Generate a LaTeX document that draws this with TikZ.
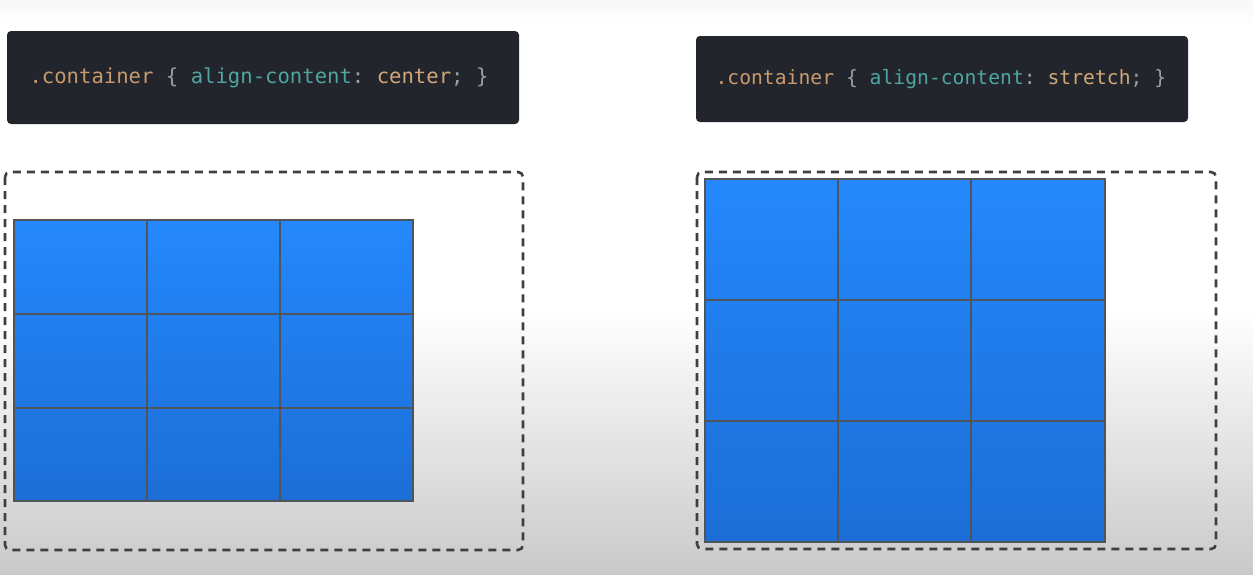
\documentclass[tikz,border=0pt]{standalone}
\usepackage{fontspec}
\setmonofont{DejaVu Sans Mono}
\definecolor{codebg}{HTML}{22252B}
\definecolor{csssel}{HTML}{C99A6E}
\definecolor{cssprop}{HTML}{4FA5A2}
\definecolor{csspunct}{HTML}{9AA0A8}
\definecolor{cssval}{HTML}{D2A679}
\definecolor{framegray}{HTML}{3F3F3F}
\definecolor{cellline}{HTML}{50555B}
\definecolor{bluetop}{HTML}{2488FC}
\definecolor{bluebot}{HTML}{1C6ED6}
\tikzset{
	codebox/.style={fill=codebg,rounded corners=4pt,inner sep=0pt},
	frame/.style={draw=framegray,line width=2.6pt,dash pattern=on 8pt off 6pt,rounded corners=5pt},
	gridline/.style={draw=cellline,line width=2.8pt},
}
\newcommand{\csscode}[1]{{\color{csssel}.container} {\color{csspunct}\{} {\color{cssprop}align-content}{\color{csspunct}:} {\color{cssval}#1}{\color{csspunct};} {\color{csspunct}\}}}
\begin{document}
\begin{tikzpicture}[x=1pt,y=-1pt]
	\useasboundingbox (0,0) rectangle (1253,574);
	% background
	\fill[white] (0,0) rectangle (1253,574);
	\shade[top color=black!3,bottom color=white] (0,0) rectangle (1253,25);
	\shade[top color=white,bottom color=black!21] (0,310) rectangle (1253,574);
	% code boxes
	\node[codebox,minimum width=512pt,minimum height=93pt] (codeleft) at (263,77.5) {};
	\node[font=\ttfamily\fontsize{20.6}{24}\selectfont,anchor=west] (textleft) at (26,78) {\csscode{center}};
	\node[codebox,minimum width=492pt,minimum height=86pt] (coderight) at (942,79) {};
	\node[font=\ttfamily\fontsize{19.7}{23}\selectfont,anchor=west] (textright) at (712,79) {\csscode{stretch}};
	% containers
	\draw[frame] (5,172) rectangle (523,550);
	\draw[frame] (697,172) rectangle (1216,549);
	% left grid (centered)
	\shade[top color=bluetop,bottom color=bluebot] (14,220) rectangle (413,501);
	\draw[gridline] (14,220) rectangle (413,501);
	\foreach \x in {147,280} \draw[gridline] (\x,220) -- (\x,501);
	\foreach \y in {314,408} \draw[gridline] (14,\y) -- (413,\y);
	% right grid (stretched)
	\shade[top color=bluetop,bottom color=bluebot] (705,179) rectangle (1105,542);
	\draw[gridline] (705,179) rectangle (1105,542);
	\foreach \x in {838,971} \draw[gridline] (\x,179) -- (\x,542);
	\foreach \y in {300,421} \draw[gridline] (705,\y) -- (1105,\y);
\end{tikzpicture}
\end{document}
